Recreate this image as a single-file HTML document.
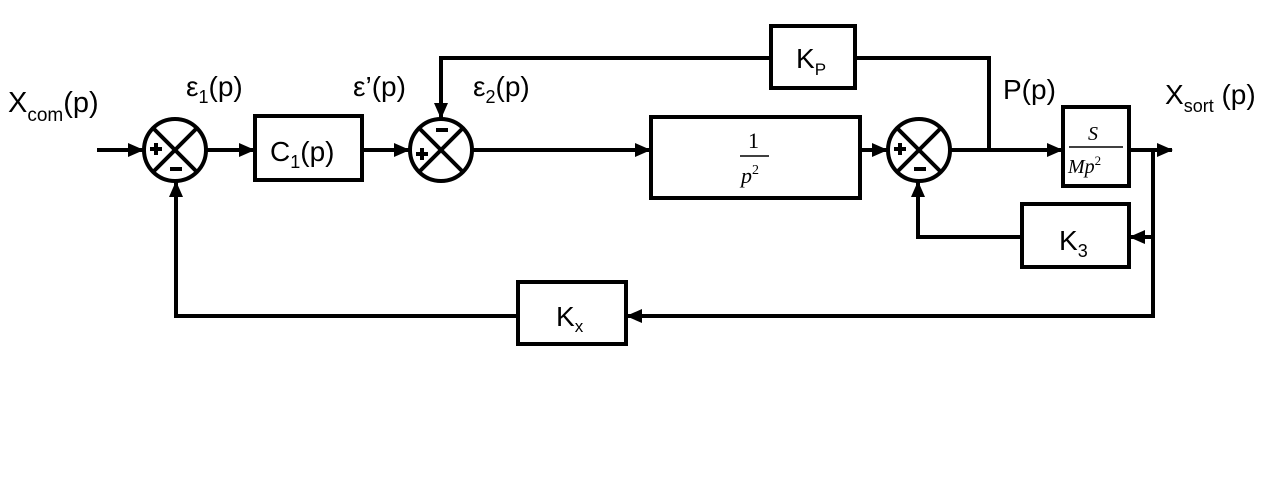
<!DOCTYPE html>
<html><head><meta charset="utf-8"><style>
html,body{margin:0;padding:0;background:#fff;}
svg{display:block;}
text{font-family:"Liberation Sans",sans-serif;fill:#000;}
.m{font-family:"Liberation Serif",serif;font-style:italic;}
</style></head><body>
<svg width="1280" height="486" viewBox="0 0 1280 486" xmlns="http://www.w3.org/2000/svg">
<defs>
<marker id="a" markerWidth="10" markerHeight="10" refX="9" refY="5" orient="auto" markerUnits="userSpaceOnUse">
<path d="M0,0 L10,5 L0,10 z" fill="#000"/></marker>
<marker id="b" markerWidth="16" markerHeight="14" refX="15" refY="7" orient="auto" markerUnits="userSpaceOnUse">
<path d="M0,0 L16,7 L0,14 z" fill="#000"/></marker>
</defs>
<g stroke="#000" stroke-width="4" fill="none">
<!-- main line -->
<line x1="97" y1="150" x2="143" y2="150" marker-end="url(#b)"/>
<line x1="206" y1="150" x2="254" y2="150" marker-end="url(#b)"/>
<line x1="362" y1="150" x2="409" y2="150" marker-end="url(#b)"/>
<line x1="472" y1="150" x2="650" y2="150" marker-end="url(#b)"/>
<line x1="860" y1="150" x2="887" y2="150" marker-end="url(#b)"/>
<line x1="950" y1="150" x2="1062" y2="150" marker-end="url(#b)"/>
<line x1="1129" y1="150" x2="1172" y2="150" marker-end="url(#b)"/>
<!-- circles -->
<circle cx="175" cy="150" r="31"/>
<line x1="153" y1="128" x2="197" y2="172"/><line x1="197" y1="128" x2="153" y2="172"/>
<circle cx="441" cy="150" r="31"/>
<line x1="419" y1="128" x2="463" y2="172"/><line x1="463" y1="128" x2="419" y2="172"/>
<circle cx="919" cy="150" r="31"/>
<line x1="897" y1="128" x2="941" y2="172"/><line x1="941" y1="128" x2="897" y2="172"/>
<!-- boxes -->
<rect x="255" y="116" width="107" height="64"/>
<rect x="651" y="117" width="209" height="81"/>
<rect x="1063" y="107" width="66" height="79"/>
<rect x="771" y="26" width="84" height="62"/>
<rect x="1022" y="204" width="107" height="63"/>
<rect x="518" y="282" width="108" height="62"/>
<!-- Kp loop -->
<polyline points="989,150 989,58 855,58"/>
<polyline points="771,58 441,58 441,118" marker-end="url(#b)"/>
<!-- output feedback -->
<polyline points="1153,150 1153,316 627,316" marker-end="url(#b)"/>
<line x1="1153" y1="237" x2="1130" y2="237" marker-end="url(#b)"/>
<polyline points="1022,237 918,237 918,182" marker-end="url(#b)"/>
<polyline points="518,316 176,316 176,182" marker-end="url(#b)"/>
<!-- fraction bars -->
<line x1="740" y1="156" x2="769" y2="156" stroke-width="1.5"/>
<line x1="1069" y1="147" x2="1123" y2="147" stroke-width="1.5"/>
</g>
<!-- signs -->
<g fill="#000">
<rect x="150" y="147" width="12" height="4"/><rect x="154" y="143" width="4" height="12"/>
<rect x="170" y="167" width="12" height="4"/>
<rect x="416" y="152" width="12" height="4"/><rect x="420" y="148" width="4" height="12"/>
<rect x="436" y="128" width="12" height="4"/>
<rect x="894" y="147" width="12" height="4"/><rect x="898" y="143" width="4" height="12"/>
<rect x="914" y="167" width="12" height="4"/>
</g>
<!-- labels -->
<text x="8" y="112" font-size="29">X<tspan font-size="19" dy="9">com</tspan><tspan dy="-9">(p)</tspan></text>
<text x="186" y="96" font-size="28">ε<tspan font-size="18" dy="7">1</tspan><tspan dy="-7">(p)</tspan></text>
<text x="353" y="96" font-size="28">ε’(p)</text>
<text x="473" y="96" font-size="28">ε<tspan font-size="18" dy="7">2</tspan><tspan dy="-7">(p)</tspan></text>
<text x="1003" y="99" font-size="28">P(p)</text>
<text x="1165" y="104" font-size="28">X<tspan font-size="18" dy="8">sort</tspan><tspan dy="-8"> (p)</tspan></text>
<text x="270" y="161" font-size="28">C<tspan font-size="18" dy="7">1</tspan><tspan dy="-7">(p)</tspan></text>
<text x="796" y="68" font-size="28">K<tspan font-size="17" dy="7">P</tspan></text>
<text x="1059" y="250" font-size="28">K<tspan font-size="18" dy="7">3</tspan></text>
<text x="556" y="326" font-size="28">K<tspan font-size="17" dy="6">x</tspan></text>
<text x="748" y="148" font-size="22" class="m" style="font-style:normal">1</text>
<text x="741" y="183" font-size="22" class="m">p<tspan font-size="14" dy="-9" style="font-style:normal">2</tspan></text>
<text x="1088" y="140" font-size="20" class="m">S</text>
<text x="1068" y="173" font-size="20" class="m">Mp<tspan font-size="13" dy="-8" style="font-style:normal">2</tspan></text>
</svg>
</body></html>
